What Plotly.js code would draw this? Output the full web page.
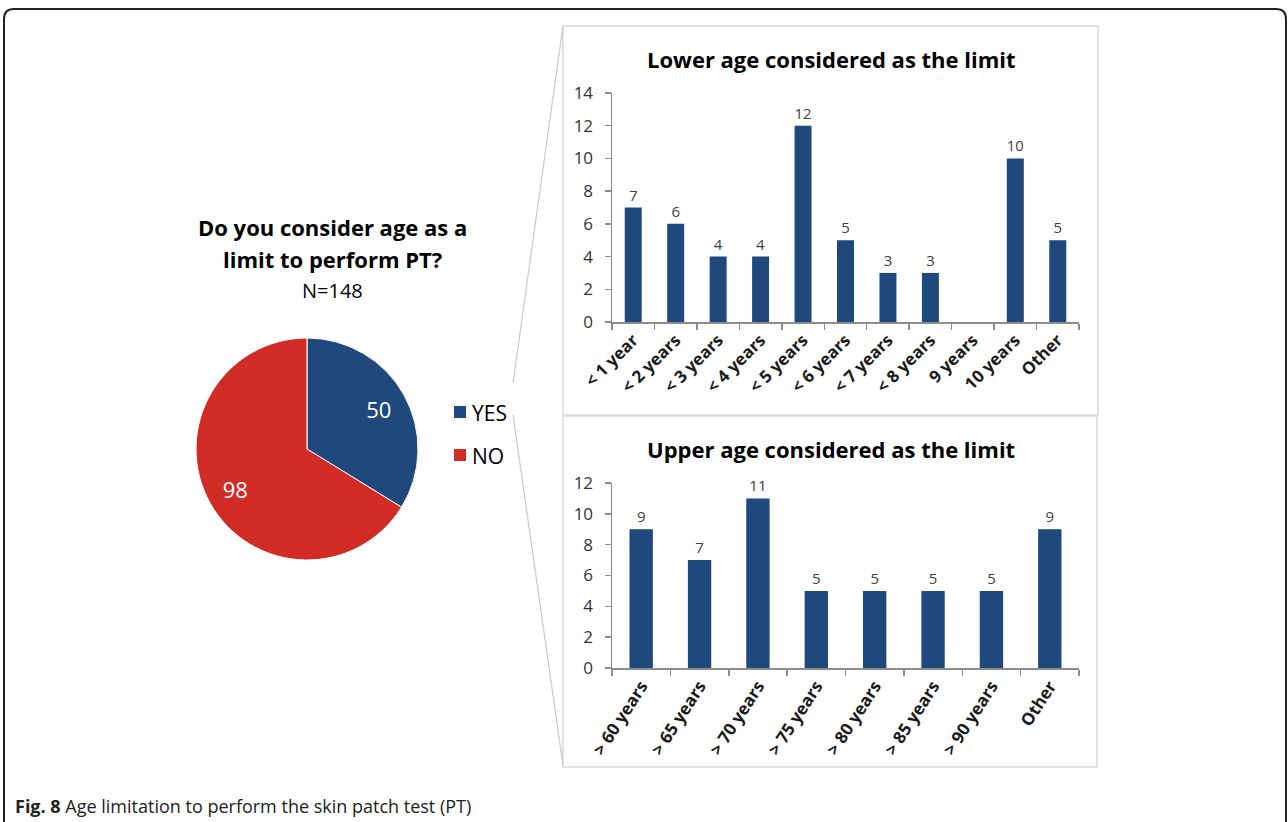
<!DOCTYPE html>
<html><head><meta charset="utf-8">
<script src="https://cdn.plot.ly/plotly-3.0.1.min.js"></script>
<style>html,body{margin:0;padding:0;background:#fff}#chart{width:1288px;height:822px}</style>
</head><body><div id="chart"></div>
<script>
// ---- data ----
const pieLabels = ['YES', 'NO'];
const pieValues = [50, 98];
const pieTitleLines = ['Do you consider age as a', 'limit to perform PT?'];
const pieSubtitle = 'N=148';

const lowerCategories = ['< 1 year', '< 2 years', '< 3 years', '< 4 years', '< 5 years', '< 6 years', '< 7 years', '< 8 years', '9 years', '10 years', 'Other'];
const lowerValues = [7, 6, 4, 4, 12, 5, 3, 3, 0, 10, 5];
const lowerTitle = 'Lower age considered as the limit';

const upperCategories = ['> 60 years', '> 65 years', '> 70 years', '> 75 years', '> 80 years', '> 85 years', '> 90 years', 'Other'];
const upperValues = [9, 7, 11, 5, 5, 5, 5, 9];
const upperTitle = 'Upper age considered as the limit';

const captionBold = 'Fig. 8';
const captionText = 'Age limitation to perform the skin patch test (PT)';

// ---- helpers ----
const W = 1288, H = 822;
const px = x => x / W;
const py = y => 1 - y / H;
const BLUE = '#1f487c', RED = '#d12b26';
const FONT = '"Open Sans", sans-serif';
const pieDomain = {x: [px(196), px(418)], y: [py(560), py(338)]};

const traces = [
  { // pie wedges
    type: 'pie', labels: pieLabels, values: pieValues, sort: false, direction: 'clockwise',
    rotation: 0, textinfo: 'none',
    marker: {colors: [BLUE, RED], line: {color: '#ffffff', width: 1}},
    domain: pieDomain, showlegend: false, hoverinfo: 'label+value'
  },
  { // value labels placed in the outer ring of the same pie
    type: 'pie', labels: pieLabels, values: pieValues, sort: false, direction: 'clockwise',
    rotation: 0, hole: 0.48, textinfo: 'value', textposition: 'inside', insidetextorientation: 'horizontal',
    textfont: {family: FONT, size: 22, color: '#ffffff'},
    marker: {colors: ['rgba(0,0,0,0)', 'rgba(0,0,0,0)'], line: {width: 0}},
    domain: pieDomain, showlegend: false, hoverinfo: 'skip'
  },
  {
    type: 'bar', x: lowerCategories, y: lowerValues, xaxis: 'x', yaxis: 'y',
    marker: {color: BLUE}, text: lowerValues.map(v => v ? String(v) : ''),
    textposition: 'outside', cliponaxis: false,
    textfont: {family: FONT, size: 15, color: '#404040'}, showlegend: false
  },
  {
    type: 'bar', x: upperCategories, y: upperValues, xaxis: 'x2', yaxis: 'y2',
    marker: {color: BLUE}, text: upperValues.map(v => String(v)),
    textposition: 'outside', cliponaxis: false,
    textfont: {family: FONT, size: 15, color: '#404040'}, showlegend: false
  }
];

const axisX = (dom, anchor, angle) => ({
  domain: dom, anchor: anchor, type: 'category', showgrid: false, zeroline: false,
  showline: true, linecolor: '#8c8c8c', linewidth: 1.5,
  ticks: 'outside', tickson: 'boundaries', ticklen: 6, tickcolor: '#8c8c8c', tickwidth: 1.5,
  tickangle: angle, tickfont: {family: FONT, size: 17, color: '#1a1a1a', weight: 'bold'},
  fixedrange: true
});
const axisY = (dom, anchor, range) => ({
  domain: dom, anchor: anchor, range: range, dtick: 2, showgrid: false, zeroline: false,
  showline: true, linecolor: '#8c8c8c', linewidth: 1.5,
  ticks: 'outside', ticklen: 6, tickcolor: '#8c8c8c', tickwidth: 1.5, ticklabelstandoff: 8,
  tickfont: {family: FONT, size: 17, color: '#333333'}, fixedrange: true
});

const shapes = [
  // outer rounded frame
  {type: 'path', xref: 'paper', yref: 'paper',
   path: `M ${px(4)},${py(840)} L ${px(4)},${py(19)} Q ${px(4)},${py(9)} ${px(14)},${py(9)} L ${px(1276)},${py(9)} Q ${px(1286)},${py(9)} ${px(1286)},${py(19)} L ${px(1286)},${py(840)}`,
   line: {color: '#222222', width: 2}},
  // panels
  {type: 'rect', xref: 'paper', yref: 'paper', x0: px(563), x1: px(1098), y0: py(415), y1: py(26),
   line: {color: '#d9d9d9', width: 1.5}},
  {type: 'rect', xref: 'paper', yref: 'paper', x0: px(563), x1: px(1097), y0: py(767), y1: py(416),
   line: {color: '#d9d9d9', width: 1.5}},
  // connector lines
  {type: 'line', xref: 'paper', yref: 'paper', x0: px(513), y0: py(383), x1: px(563), y1: py(26),
   line: {color: '#c8c8c8', width: 1.2}},
  {type: 'line', xref: 'paper', yref: 'paper', x0: px(513), y0: py(415), x1: px(563), y1: py(765),
   line: {color: '#c8c8c8', width: 1.2}},
  // legend swatches
  {type: 'rect', xref: 'paper', yref: 'paper', x0: px(454), x1: px(466), y0: py(418), y1: py(406),
   fillcolor: BLUE, line: {width: 0}},
  {type: 'rect', xref: 'paper', yref: 'paper', x0: px(454), x1: px(466), y0: py(461), y1: py(449),
   fillcolor: RED, line: {width: 0}}
];

const ann = (x, y, text, size, anchor) => ({xref: 'paper', yref: 'paper', x: px(x), y: py(y), text: text,
  showarrow: false, font: {family: FONT, size: size, color: '#000'}, xanchor: anchor || 'center', yanchor: 'middle'});

const annotations = [
  ann(831, 59, '<b>' + lowerTitle + '</b>', 22),
  ann(831, 449, '<b>' + upperTitle + '</b>', 22),
  ann(333, 227, '<b>' + pieTitleLines[0] + '</b>', 22),
  ann(333, 259, '<b>' + pieTitleLines[1] + '</b>', 22),
  ann(333, 291, pieSubtitle, 20),
  ann(470, 413, pieLabels[0], 21, 'left'),
  ann(470, 456, pieLabels[1], 21, 'left'),
  Object.assign(ann(13, 806, '<b>' + captionBold + '</b> ' + captionText, 18, 'left'), {font: {family: FONT, size: 18, color: '#222'}})
];

const layout = {
  width: W, height: H, margin: {l: 0, r: 0, t: 0, b: 0},
  paper_bgcolor: '#ffffff', plot_bgcolor: 'rgba(0,0,0,0)',
  bargap: 0.6, showlegend: false,
  xaxis: axisX([px(612), px(1079)], 'y', -45),
  yaxis: axisY([py(322), py(93)], 'x', [0, 14]),
  xaxis2: axisX([px(612), px(1079)], 'y2', -57),
  yaxis2: axisY([py(668), py(483)], 'x2', [0, 12]),
  shapes: shapes, annotations: annotations
};

Plotly.newPlot('chart', traces, layout, {displayModeBar: false, staticPlot: true});
</script></body></html>
